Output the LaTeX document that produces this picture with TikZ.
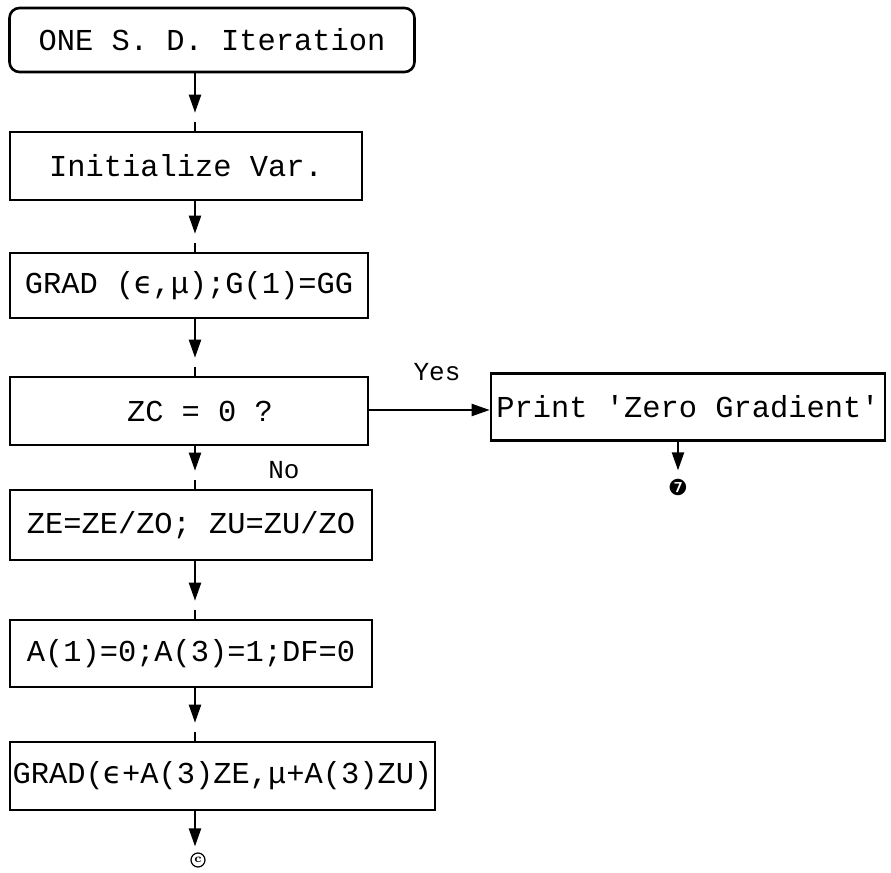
\documentclass[tikz,border=0pt]{standalone}
\usepackage{fontspec}
\setmonofont{Liberation Mono}
\newfontfamily\symfont{DejaVu Sans}
\usetikzlibrary{calc,arrows.meta}
\newcommand{\eps}{\makebox[0.6em]{\symfont ϵ}}
\begin{document}
\begin{tikzpicture}[x=0.5pt,y=-0.5pt,
  txt/.style={font=\ttfamily\fontsize{15.2pt}{18pt}\selectfont, inner sep=0pt},
  stepbox/.style={txt, draw, line width=1.3pt, rectangle},
  startbox/.style={stepbox, rounded corners=5pt},
  arr/.style={line width=1.1pt, -{Triangle[length=9pt,width=6pt]}},
  conn/.style={line width=1.1pt},
  lbl/.style={font=\ttfamily\fontsize{13pt}{15pt}\selectfont, inner sep=0pt}]
\useasboundingbox (0,0) rectangle (891,873);
\coordinate (ax) at (195,0);

% main column of steps
\node[startbox, minimum width=202.5pt, minimum height=32pt] (start) at (212,40) {ONE S. D. Iteration};
\node[stepbox, minimum width=176pt, minimum height=34pt] (init) at (186,166) {Initialize Var.};
\node[stepbox, minimum width=179pt, minimum height=32.5pt] (grad) at (189,285.5) {GRAD (\eps,μ);G(1)=GG};
\node[stepbox, minimum width=179pt, minimum height=34pt] (zo) at (189,411) {};
\node[txt] (zotext) at (200,411) {ZC = 0 ?};
\node[stepbox, minimum width=197pt, minimum height=33.5pt] (pr) at (688,407) {Print 'Zero Gradient'};
\node[stepbox, minimum width=181pt, minimum height=35pt] (scale) at (191,525) {ZE=ZE/ZO; ZU=ZU/ZO};
\node[stepbox, minimum width=181pt, minimum height=33.5pt] (ainit) at (191,653.5) {A(1)=0;A(3)=1;DF=0};
\node[stepbox, minimum width=212.5pt, minimum height=34pt] (grad2) at (222.5,776) {GRAD(\eps+A(3)ZE,μ+A(3)ZU)};

% connector symbols
\node[draw, circle, line width=0.6pt, inner sep=0.4pt, minimum size=7pt,
      font=\fontsize{6pt}{7pt}\selectfont\bfseries] (offc) at (198,860) {c};
\node[font=\symfont\fontsize{11pt}{12pt}\selectfont, inner sep=0pt] (off7) at (678,487) {❼};

% vertical flow
\foreach \a/\b in {start/init, init/grad, grad/zo, zo/scale, scale/ainit, ainit/grad2}{
  \draw[arr] (ax |- \a.south) -- ($(ax |- \b.north)+(0,-18)$);
  \draw[conn] ($(ax |- \b.north)+(0,-9)$) -- (ax |- \b.north);
}
\draw[arr] (ax |- grad2.south) -- ($(ax |- offc.north)+(0,-6)$);
\draw[arr] (678,440) -- ($(off7.north)+(0,-8)$);

% branch
\draw[arr] (zo.east |- 0,410) -- (pr.west |- 0,410);
\node[lbl] (yes) at (437,372) {Yes};
\node[lbl] (no) at (284,470) {No};
\end{tikzpicture}
\end{document}
